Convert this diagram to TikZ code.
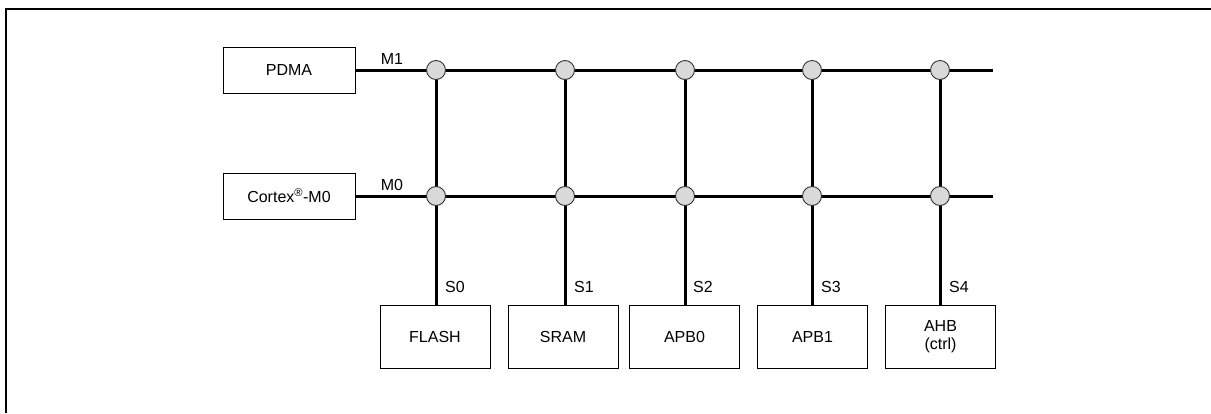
\documentclass[tikz,border=0pt]{standalone}
\usepackage{fontspec}
\setmainfont{Liberation Sans}
\begin{document}
\begin{tikzpicture}[x=1pt,y=-1pt,
  box/.style={draw=black,line width=1pt,minimum width=132pt,minimum height=46pt,inner sep=0pt,font=\fontsize{16}{19}\selectfont},
  sbox/.style={draw=black,line width=1pt,minimum width=110pt,minimum height=63pt,inner sep=0pt,align=center,font=\fontsize{16}{19}\selectfont},
  bus/.style={line width=3pt},
  junc/.style={circle,draw=black!80,line width=0.9pt,fill=black!15,minimum size=19pt,inner sep=0pt},
  lbl/.style={font=\fontsize{16}{19}\selectfont,inner sep=0pt}]
\useasboundingbox (0,0) rectangle (1211,413);
% frame
\coordinate (fa) at (6,413);
\coordinate (fb) at (6,9);
\coordinate (fc) at (1211,9);
\draw[line width=2pt] (fa) -- (fb) -- (fc);
% masters
\node[box] (pdma) at (289,70) {PDMA};
\node[box] (cpu) at (289,196) {Cortex\textsuperscript{\textregistered}-M0};
% slaves
\node[sbox] (s0) at (435,336.5) {FLASH};
\node[sbox] (s1) at (563,336.5) {SRAM};
\node[sbox] (s2) at (684.5,336.5) {APB0};
\node[sbox] (s3) at (812.5,336.5) {APB1};
\node[sbox] (s4) at (940.5,336.5) {AHB\\[-1pt](ctrl)};
% bus ends
\coordinate (e1) at (993,70);
\coordinate (e0) at (993,196);
% lines
\draw[bus] (pdma.east) -- (e1);
\draw[bus] (cpu.east) -- (e0);
\foreach \i/\x in {0/436,1/565,2/685,3/812,4/940}{
  \coordinate (t\i) at (\x,70);
  \draw[bus] (t\i) -- (s\i.north -| t\i);
}
% junctions
\foreach \i/\x in {0/436,1/565,2/685,3/812,4/940}{
  \node[junc] (a\i) at (\x,70) {};
  \node[junc] (b\i) at (\x,196) {};
}
% labels
\node[lbl] (m1) at (392,59) {M1};
\node[lbl] (m0) at (392,185) {M0};
\node[lbl] (l0) at (455,287) {S0};
\node[lbl] (l1) at (584,287) {S1};
\node[lbl] (l2) at (703,287) {S2};
\node[lbl] (l3) at (831,287) {S3};
\node[lbl] (l4) at (959,287) {S4};
\end{tikzpicture}
\end{document}
